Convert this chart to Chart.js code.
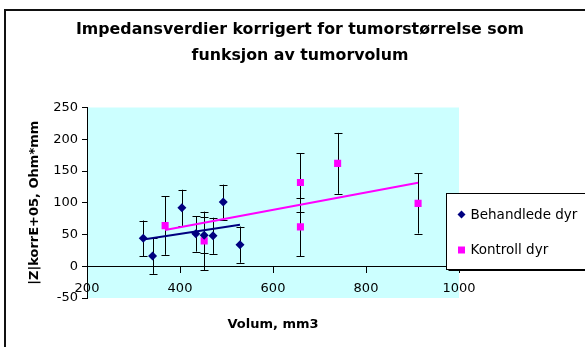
<!DOCTYPE html>
<html>
<head>
<meta charset="utf-8">
<script src="https://cdn.jsdelivr.net/npm/chart.js@4.4.1/dist/chart.umd.min.js"></script>
<style>
  html, body { margin: 0; padding: 0; background: #fff; overflow: hidden; }
  #wrap { width: 585px; height: 347px; }
  #c { display: block; }
</style>
</head>
<body>
<div id="wrap"><canvas id="c" width="585" height="347"></canvas></div>
<script>
// Text
const titleLines = ['Impedansverdier korrigert for tumorstørrelse som', 'funksjon av tumorvolum'];
const xTitle = 'Volum, mm3';
const yTitle = '|Z|korrE+05, Ohm*mm';
const seriesNames = ['Behandlede dyr', 'Kontroll dyr'];

// Treated animals: tumour volume, corrected impedance, error (±)
const behVolum = [321, 341, 404, 434, 452, 471, 493, 529];
const behZ     = [44, 16, 92, 51, 49, 48, 101, 34];
const behErr   = [28, 28, 28.5, 28, 28.5, 28.5, 27.5, 28.5];

// Control animals
const konVolum = [368, 452, 659, 659, 739, 912];
const konZ     = [64, 40, 132, 62, 162, 99];
const konErr   = [46, 46, 46, 46, 48, 47.5];

// Axis ticks
const xTicks = [200, 400, 600, 800, 1000];
const yTicks = [-50, 0, 50, 100, 150, 200, 250];

const NAVY = '#000080';
const MAGENTA = '#FF00FF';

function points(xs, ys) {
  return xs.map((x, i) => ({ x: x, y: ys[i] }));
}

// Least-squares linear trend over the range of the series
function trend(xs, ys) {
  const n = xs.length;
  const mx = xs.reduce((a, b) => a + b, 0) / n;
  const my = ys.reduce((a, b) => a + b, 0) / n;
  let sxy = 0, sxx = 0;
  for (let i = 0; i < n; i++) {
    sxy += (xs[i] - mx) * (ys[i] - my);
    sxx += (xs[i] - mx) * (xs[i] - mx);
  }
  const b = sxy / sxx, a = my - b * mx;
  const x0 = Math.min(...xs), x1 = Math.max(...xs);
  return [{ x: x0, y: a + b * x0 }, { x: x1, y: a + b * x1 }];
}

// Plot background and outer frame
const backdrop = {
  id: 'backdrop',
  beforeDraw(chart) {
    const { ctx, chartArea: ca } = chart;
    ctx.save();
    ctx.fillStyle = '#CCFFFF';
    ctx.fillRect(ca.left, ca.top, ca.right - ca.left, ca.bottom - ca.top);
    ctx.strokeStyle = '#111';
    ctx.lineWidth = 2;
    ctx.beginPath();
    ctx.moveTo(5, chart.height + 5);
    ctx.lineTo(5, 10);
    ctx.lineTo(chart.width + 5, 10);
    ctx.stroke();
    ctx.restore();
  }
};

// Vertical error bars with caps
const errorBars = {
  id: 'errorBars',
  beforeDatasetsDraw(chart) {
    const { ctx, scales: { x, y } } = chart;
    ctx.save();
    ctx.strokeStyle = '#000';
    ctx.lineWidth = 1;
    chart.data.datasets.forEach((ds) => {
      if (!ds.errors) return;
      ds.data.forEach((p, i) => {
        const e = ds.errors[i];
        const px = Math.round(x.getPixelForValue(p.x)) + 0.5;
        const yt = y.getPixelForValue(p.y + e);
        const yb = y.getPixelForValue(p.y - e);
        ctx.beginPath();
        ctx.moveTo(px, yt); ctx.lineTo(px, yb);
        ctx.moveTo(px - 4, Math.round(yt) + 0.5); ctx.lineTo(px + 4, Math.round(yt) + 0.5);
        ctx.moveTo(px - 4, Math.round(yb) + 0.5); ctx.lineTo(px + 4, Math.round(yb) + 0.5);
        ctx.stroke();
      });
    });
    ctx.restore();
  }
};

// Framed legend at the right edge of the plot
const boxLegend = {
  id: 'boxLegend',
  afterDraw(chart) {
    const { ctx, chartArea: ca } = chart;
    const left = Math.round(ca.right) - 12.5;
    const top = Math.round(ca.top) + 85.5;
    const bottom = top + 76;
    ctx.save();
    ctx.fillStyle = '#fff';
    ctx.fillRect(left, top, chart.width, bottom - top);
    ctx.strokeStyle = '#000';
    ctx.lineWidth = 1;
    ctx.strokeRect(left, top, chart.width, bottom - top);
    ctx.beginPath();
    ctx.moveTo(left + 2, bottom + 1); ctx.lineTo(chart.width, bottom + 1);
    ctx.stroke();
    const items = chart.data.datasets.filter(d => d.legendItem);
    ctx.font = "13.5px 'DejaVu Sans'";
    ctx.textBaseline = 'middle';
    ctx.textAlign = 'left';
    items.forEach((ds, i) => {
      const cy = top + 21 + i * 35.5;
      const cx = left + 15;
      ctx.fillStyle = ds.backgroundColor;
      ctx.beginPath();
      if (ds.pointStyle === 'rectRot') {
        ctx.moveTo(cx, cy - 4); ctx.lineTo(cx + 4, cy); ctx.lineTo(cx, cy + 4); ctx.lineTo(cx - 4, cy);
        ctx.closePath();
      } else {
        ctx.rect(cx - 3.5, cy - 3.5, 7, 7);
      }
      ctx.fill();
      ctx.fillStyle = '#000';
      ctx.fillText(ds.label, left + 24, cy + 0.5);
    });
    ctx.restore();
  }
};

Chart.defaults.font.family = "'DejaVu Sans', sans-serif";
Chart.defaults.color = '#000';

new Chart(document.getElementById('c'), {
  type: 'scatter',
  data: {
    datasets: [
      {
        label: seriesNames[0],
        data: points(behVolum, behZ),
        errors: behErr,
        legendItem: true,
        pointStyle: 'rectRot',
        pointRadius: 4.5,
        backgroundColor: NAVY,
        borderColor: NAVY,
        borderWidth: 0,
        order: 0
      },
      {
        label: seriesNames[1],
        data: points(konVolum, konZ),
        errors: konErr,
        legendItem: true,
        pointStyle: 'rect',
        pointRadius: 5,
        backgroundColor: MAGENTA,
        borderColor: MAGENTA,
        borderWidth: 0,
        order: 0
      },
      {
        label: seriesNames[0] + ' trend',
        data: trend(behVolum, behZ),
        showLine: true,
        pointRadius: 0,
        borderColor: NAVY,
        borderWidth: 2,
        order: 1
      },
      {
        label: seriesNames[1] + ' trend',
        data: trend(konVolum, konZ),
        showLine: true,
        pointRadius: 0,
        borderColor: MAGENTA,
        borderWidth: 2,
        order: 1
      }
    ]
  },
  options: {
    responsive: false,
    animation: false,
    devicePixelRatio: 1,
    layout: { padding: { left: 15, right: 0, top: 0, bottom: 49 } },
    plugins: {
      legend: { display: false },
      tooltip: { enabled: false },
      title: {
        display: true,
        text: titleLines,
        color: '#000',
        font: { size: 15.8, weight: 'bold', lineHeight: '26px' },
        padding: { top: 17, bottom: 38.5 }
      }
    },
    scales: {
      x: {
        type: 'linear',
        min: 200,
        max: 1000,
        position: { y: 0 },
        afterBuildTicks: (s) => { s.ticks = xTicks.map(v => ({ value: v })); },
        grid: { display: true, drawOnChartArea: false, drawTicks: true, tickLength: 6, color: '#000' },
        border: { display: true, color: '#000', width: 1 },
        ticks: {
          color: '#000', font: { size: 13 }, padding: 8.5, maxRotation: 0, autoSkip: false,
          callback: (v) => String(v)
        },
        title: {
          display: true, text: xTitle, color: '#000',
          font: { size: 13, weight: 'bold' },
          padding: { top: 12, bottom: 0 }
        }
      },
      y: {
        type: 'linear',
        min: -50,
        max: 250,
        position: 'left',
        afterBuildTicks: (s) => { s.ticks = yTicks.map(v => ({ value: v })); },
        afterFit: (s) => { s.width = 72; },
        grid: { display: true, drawOnChartArea: false, drawTicks: true, tickLength: 5, color: '#000' },
        border: { display: true, color: '#000', width: 1 },
        ticks: { color: '#000', font: { size: 13 }, padding: 4, callback: (v) => String(v) },
        title: {
          display: true, text: yTitle, color: '#000',
          font: { size: 13, weight: 'bold' },
          padding: { top: 12, bottom: 0 }
        }
      },
      yRight: {
        type: 'linear',
        position: 'right',
        display: true,
        ticks: { display: false },
        grid: { display: false },
        border: { display: false },
        afterFit: (s) => { s.width = 126; }
      }
    }
  },
  plugins: [backdrop, errorBars, boxLegend]
});
</script>
</body>
</html>
